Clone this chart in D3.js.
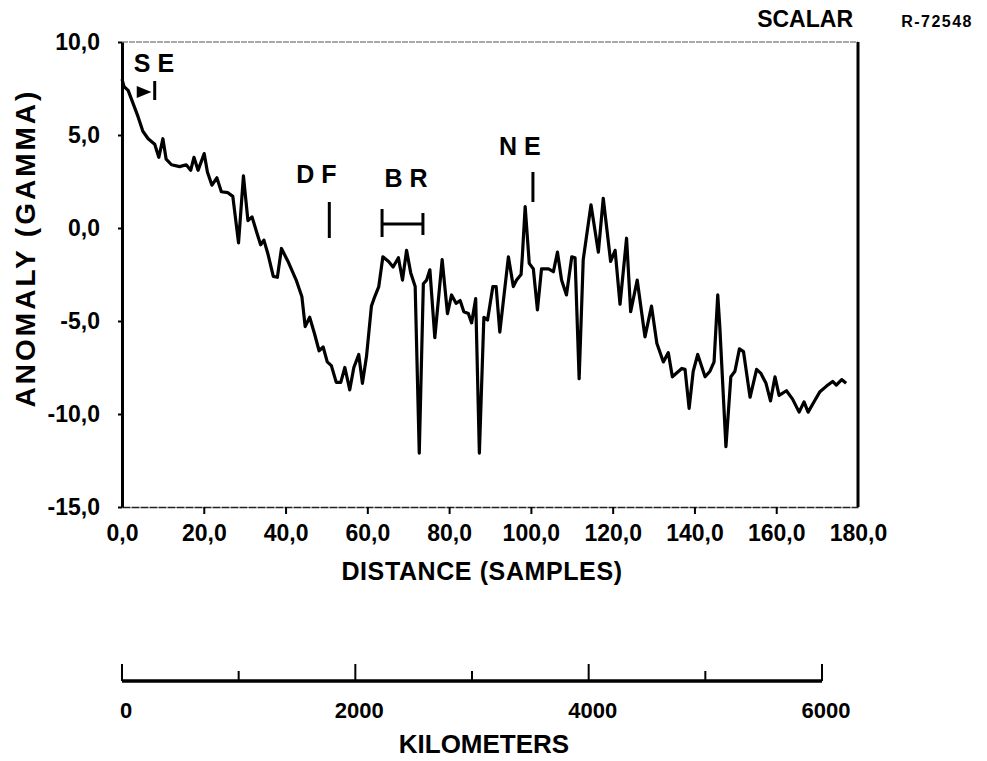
<!DOCTYPE html>
<html>
<head>
<meta charset="utf-8">
<script src="https://d3js.org/d3.v7.min.js"></script>
<style>
  body { margin: 0; background: #fff; }
  svg { display: block; font-family: "Liberation Sans", Arial, Helvetica, sans-serif; font-weight: bold; }
  .tick text { font-size: 23px; fill: #000; font-family: "Liberation Sans", Arial, sans-serif; }
</style>
</head>
<body>
<div id="chart"></div>
<script>

// anomaly trace (distance in samples, anomaly in gamma)
var sample = [0, 0.5, 1.5, 2.7, 3.9, 5.1, 6.4, 8.0, 9.0, 10.0, 10.8, 12.1, 14.1, 15.7, 16.8, 17.6, 18.6,
  20.1, 20.9, 22.0, 23.2, 24.3, 25.9, 27.1, 28.5, 29.7, 30.8, 31.8, 32.9, 33.9, 34.7, 35.7, 37.0, 38.0,
  39.0, 40.6, 42.6, 44.0, 44.8, 45.9, 47.1, 48.2, 49.2, 50.2, 51.2, 52.4, 53.5, 54.5, 55.7, 56.7, 57.9,
  58.8, 59.8, 61.0, 61.8, 62.8, 63.8, 65.2, 66.3, 67.6, 68.6, 69.6, 70.6, 71.7, 72.7, 73.7, 74.5, 75.3,
  76.5, 78.3, 79.6, 80.6, 81.7, 82.7, 83.6, 84.7, 85.5, 86.5, 87.4, 88.5, 89.4, 90.7, 91.5, 92.4, 94.5,
  95.7, 96.5, 97.6, 97.9, 98.6, 99.6, 100.6, 101.6, 102.6, 104.3, 105.5, 106.5, 107.5, 108.7, 110.0,
  110.8, 111.8, 112.8, 114.7, 116.5, 117.7, 119.5, 120.6, 121.8, 123.4, 124.4, 126.0, 127.9, 129.5,
  130.8, 132.4, 133.6, 134.6, 136.9, 137.7, 138.7, 139.7, 140.8, 142.6, 143.8, 144.8, 145.7, 146.2,
  147.7, 148.9, 149.9, 151.0, 152.0, 153.6, 155.2, 156.2, 157.5, 158.6, 159.7, 160.7, 162.5, 164.0,
  165.6, 166.8, 167.8, 169.5, 170.7, 172.3, 173.8, 174.7, 176.0, 177.1];
var anomaly = [8.0, 7.6, 7.4, 6.7, 6.0, 5.2, 4.8, 4.5, 3.8, 4.8, 3.7, 3.4, 3.3, 3.4, 3.1, 3.8, 3.1,
  4.0, 3.0, 2.3, 2.7, 1.95, 1.9, 1.7, -0.8, 2.8, 0.4, 0.6, -0.2, -0.9, -0.65, -1.4, -2.6, -2.65,
  -1.1, -1.8, -2.8, -3.7, -5.3, -4.8, -5.7, -6.6, -6.4, -7.2, -7.4, -8.3, -8.3, -7.5, -8.7, -7.5, -6.8,
  -8.35, -6.9, -4.2, -3.7, -3.15, -1.55, -1.8, -2.1, -1.6, -2.8, -1.2, -2.4, -3.15, -12.1, -3.0, -2.8, -2.25,
  -5.9, -1.7, -4.6, -3.6, -4.05, -3.9, -4.5, -4.6, -5.1, -3.8, -12.1, -4.8, -4.95, -3.15, -3.15, -5.6, -1.55,
  -3.15, -2.8, -2.5, -1.55, 1.15, -1.9, -2.2, -4.4, -2.2, -2.2, -2.35, -1.3, -2.8, -3.6, -1.55,
  -1.6, -8.1, -1.7, 1.25, -1.3, 1.6, -1.8, -1.2, -4.1, -0.55, -4.5, -2.8, -5.85, -4.2,
  -6.2, -7.2, -6.7, -8.0, -7.55, -7.6, -9.7, -7.7, -6.8, -8.0, -7.7, -7.2, -3.6, -5.3,
  -11.75, -8.0, -7.7, -6.5, -6.65, -9.1, -7.6, -7.8, -8.35, -9.3, -8.0, -9.0, -8.75, -9.2,
  -9.9, -9.35, -9.9, -9.25, -8.8, -8.5, -8.25, -8.45, -8.15, -8.35];

var xTicks = [0, 20, 40, 60, 80, 100, 120, 140, 160, 180];
var yTicks = [10, 5, 0, -5, -10, -15];
var kmMajor = [0, 2000, 4000, 6000];
var kmMinor = [1000, 3000, 5000];

// markers above the trace: label, sample position
var markers = [
  { label: "D F", at: 50.7 },
  { label: "N E", at: 100.5 }
];

var width = 987, height = 761;
var plot = { left: 122, right: 858, top: 42, bottom: 507 };

var svg = d3.select("#chart").append("svg")
  .attr("width", width)
  .attr("height", height);

var x = d3.scaleLinear().domain([0, 180]).range([plot.left, plot.right]);
var y = d3.scaleLinear().domain([-15, 10]).range([plot.bottom, plot.top]);

// old plotter style: decimal comma, plain hyphen for minus
function comma(d) { return d3.format(".1f")(d).replace(".", ",").replace("\u2212", "-"); }

// top border (thin, faint)
svg.append("line")
  .attr("x1", plot.left).attr("x2", plot.right)
  .attr("y1", plot.top).attr("y2", plot.top)
  .attr("stroke", "#555").attr("stroke-width", 1.2)
  .attr("stroke-dasharray", "6,1");

// right border
svg.append("line")
  .attr("x1", plot.right).attr("x2", plot.right)
  .attr("y1", plot.top).attr("y2", plot.bottom)
  .attr("stroke", "#000").attr("stroke-width", 3);

// x axis
var xAxis = svg.append("g")
  .attr("transform", "translate(0," + plot.bottom + ")")
  .call(d3.axisBottom(x).tickValues(xTicks).tickSize(7).tickSizeOuter(0).tickPadding(11).tickFormat(comma));
xAxis.select(".domain").attr("stroke", "#222").attr("stroke-width", 1.5).attr("stroke-dasharray", "8,1");
xAxis.selectAll(".tick line").attr("stroke", "#000").attr("stroke-width", 2);
xAxis.selectAll(".tick").filter(function (d) { return d === 0 || d === 180; }).select("line").remove();

// y axis
var yAxis = svg.append("g")
  .attr("transform", "translate(" + plot.left + ",0)")
  .call(d3.axisLeft(y).tickValues(yTicks).tickSize(4).tickSizeOuter(0).tickPadding(18).tickFormat(comma));
yAxis.select(".domain").attr("stroke", "#000").attr("stroke-width", 3);
yAxis.selectAll(".tick line").attr("stroke", "#000").attr("stroke-width", 2);

// axis titles
svg.append("text")
  .attr("x", 482).attr("y", 580)
  .attr("text-anchor", "middle")
  .attr("font-size", 25)
  .attr("letter-spacing", 0.6)
  .text("DISTANCE (SAMPLES)");

svg.append("text")
  .attr("transform", "translate(35,248) rotate(-90)")
  .attr("text-anchor", "middle")
  .attr("font-size", 28)
  .attr("letter-spacing", 3)
  .text("ANOMALY (GAMMA)");

// corner titles
svg.append("text")
  .attr("x", 853).attr("y", 27)
  .attr("text-anchor", "end")
  .attr("font-size", 23)
  .text("SCALAR");

svg.append("text")
  .attr("x", 973).attr("y", 27)
  .attr("text-anchor", "end")
  .attr("font-size", 16)
  .attr("letter-spacing", 1.5)
  .text("R-72548");

// anomaly trace
var line = d3.line()
  .x(function (d, i) { return x(sample[i]); })
  .y(function (d) { return y(d); });

svg.append("path")
  .datum(anomaly)
  .attr("fill", "none")
  .attr("stroke", "#000")
  .attr("stroke-width", 3.2)
  .attr("stroke-linejoin", "round")
  .attr("d", line);

// annotations
var ann = svg.append("g").attr("font-size", 25);

ann.append("text").attr("x", 154).attr("y", 72).attr("text-anchor", "middle").text("S E");
ann.append("path")
  .attr("d", "M" + x(3.6) + "," + 86 + "L" + x(7.2) + "," + 92 + "L" + x(3.6) + "," + 98 + "Z")
  .attr("fill", "#000");
ann.append("line")
  .attr("x1", x(8.0)).attr("x2", x(8.0)).attr("y1", 81).attr("y2", 100)
  .attr("stroke", "#000").attr("stroke-width", 3);

var mk = ann.selectAll(".marker").data(markers).enter().append("g").attr("class", "marker");
mk.append("text")
  .attr("x", function (d) { return x(d.at) - 13; })
  .attr("y", function (d) { return d.label === "D F" ? 183 : 155; })
  .attr("text-anchor", "middle")
  .text(function (d) { return d.label; });
mk.append("line")
  .attr("x1", function (d) { return x(d.at); })
  .attr("x2", function (d) { return x(d.at); })
  .attr("y1", function (d) { return d.label === "D F" ? 202 : 172; })
  .attr("y2", function (d) { return d.label === "D F" ? 238 : 202; })
  .attr("stroke", "#000").attr("stroke-width", 3);

// B R bracket
var brFrom = 63.6, brTo = 73.6;
ann.append("text").attr("x", 406).attr("y", 187).attr("text-anchor", "middle").text("B R");
ann.append("line").attr("x1", x(brFrom)).attr("x2", x(brTo)).attr("y1", 224).attr("y2", 224)
  .attr("stroke", "#000").attr("stroke-width", 3);
ann.append("line").attr("x1", x(brFrom)).attr("x2", x(brFrom)).attr("y1", 209).attr("y2", 237)
  .attr("stroke", "#000").attr("stroke-width", 3);
ann.append("line").attr("x1", x(brTo)).attr("x2", x(brTo)).attr("y1", 213).attr("y2", 235)
  .attr("stroke", "#000").attr("stroke-width", 3);

// kilometre scale
var km = d3.scaleLinear().domain([0, 6000]).range([122, 822]);
var kmY = 681;
var kmG = svg.append("g");
kmG.append("line")
  .attr("x1", km(0)).attr("x2", km(6000)).attr("y1", kmY).attr("y2", kmY)
  .attr("stroke", "#000").attr("stroke-width", 3.5);
kmG.selectAll(".major").data(kmMajor).enter().append("line")
  .attr("x1", km).attr("x2", km)
  .attr("y1", kmY).attr("y2", kmY - 17)
  .attr("stroke", "#000").attr("stroke-width", 2);
kmG.selectAll(".minor").data(kmMinor).enter().append("line")
  .attr("x1", km).attr("x2", km)
  .attr("y1", kmY).attr("y2", kmY - 10)
  .attr("stroke", "#000").attr("stroke-width", 2);
kmG.selectAll(".kmlabel").data(kmMajor).enter().append("text")
  .attr("x", function (d) { return km(d) + 4; })
  .attr("y", 718)
  .attr("text-anchor", "middle")
  .attr("font-size", 22)
  .text(function (d) { return d; });
kmG.append("text")
  .attr("x", 484).attr("y", 753)
  .attr("text-anchor", "middle")
  .attr("font-size", 26)
  .text("KILOMETERS");

</script>
</body>
</html>
